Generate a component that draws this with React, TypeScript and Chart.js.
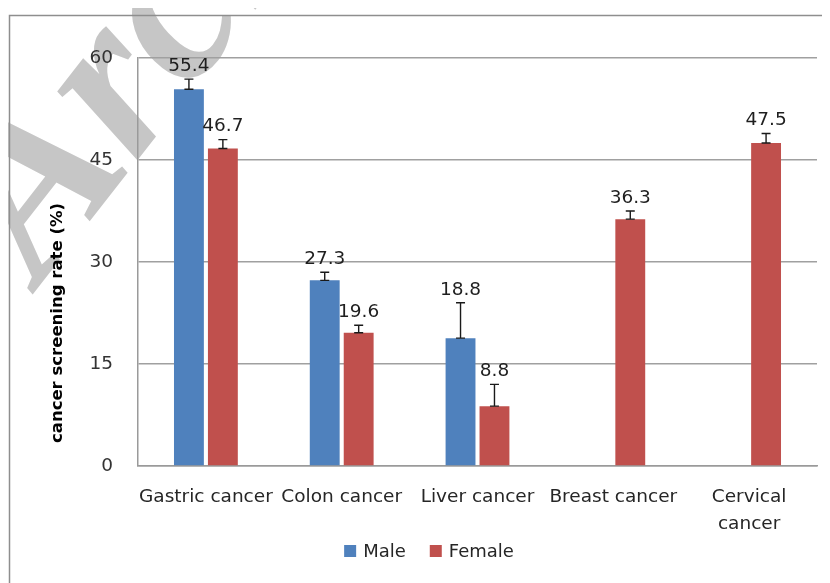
import React, { useEffect, useRef } from 'react';
import { Chart, registerables } from 'chart.js';

Chart.register(...registerables);

const categories: (string | string[])[] = ['Gastric cancer', 'Colon cancer', 'Liver cancer', 'Breast cancer', ['Cervical', 'cancer']];
const maleValues: (number | null)[] = [55.4, 27.3, 18.8, null, null];
const femaleValues: (number | null)[] = [46.7, 19.6, 8.8, 36.3, 47.5];
const maleErrors: (number | null)[] = [1.5, 1.2, 5.2, null, null];
const femaleErrors: (number | null)[] = [1.3, 1.1, 3.2, 1.2, 1.4];
const yTickValues = [0, 15, 30, 45, 60];
const seriesNames = ['Male', 'Female'];
const seriesColors = ['#4f81bd', '#c0504d'];
const yTitle = 'cancer screening rate (%)';
const watermarkText = 'Archive of SID';

const FONT = '"DejaVu Sans", Verdana, sans-serif';

const backgroundPlugin = {
  id: 'bgWatermark',
  beforeDraw(chart: any) {
    const { ctx, width, height } = chart;
    ctx.save();
    ctx.fillStyle = '#ffffff';
    ctx.fillRect(0, 0, width, height);
    // watermark
    ctx.save();
    ctx.translate(32, 277);
    ctx.rotate((-52 * Math.PI) / 180);
    ctx.font = 'italic bold 230px "Liberation Serif", "DejaVu Serif", serif';
    ctx.fillStyle = '#c6c6c6';
    ctx.textBaseline = 'alphabetic';
    ctx.fillText(watermarkText, 0, 0);
    ctx.restore();
    // outer frame
    ctx.strokeStyle = '#8e8e8e';
    ctx.lineWidth = 1.5;
    ctx.beginPath();
    ctx.moveTo(1.5, height + 5);
    ctx.lineTo(1.5, 7.5);
    ctx.lineTo(width + 5, 7.5);
    ctx.stroke();
    ctx.restore();
  },
};

const decorPlugin = {
  id: 'decor',
  afterDraw(chart: any) {
    const { ctx } = chart;
    // y-axis title
    ctx.save();
    ctx.translate(50, 315);
    ctx.rotate(-Math.PI / 2);
    ctx.font = 'bold 16.5px ' + FONT;
    ctx.fillStyle = '#000000';
    ctx.textAlign = 'center';
    ctx.textBaseline = 'middle';
    ctx.fillText(yTitle, 0, 0);
    ctx.restore();
    // legend
    ctx.save();
    ctx.font = '18px ' + FONT;
    const box = 12;
    const gapText = 7;
    const gapItem = 24;
    const widths = seriesNames.map((n) => ctx.measureText(n).width);
    const total = widths.reduce((a, w) => a + box + gapText + w, 0) + gapItem * (seriesNames.length - 1);
    let x = 421 - total / 2;
    const cy = 543;
    seriesNames.forEach((n, i) => {
      ctx.fillStyle = seriesColors[i];
      ctx.fillRect(x, cy - box / 2, box, box);
      x += box + gapText;
      ctx.fillStyle = '#262626';
      ctx.textAlign = 'left';
      ctx.textBaseline = 'middle';
      ctx.fillText(n, x, cy + 1);
      x += widths[i] + gapItem;
    });
    ctx.restore();
  },
};

const errorLabelPlugin = {
  id: 'errorLabels',
  afterDatasetsDraw(chart: any) {
    const { ctx } = chart;
    const yScale = chart.scales.y;
    const errs = [maleErrors, femaleErrors];
    chart.data.datasets.forEach((ds: any, di: number) => {
      const meta = chart.getDatasetMeta(di);
      meta.data.forEach((el: any, i: number) => {
        const v = ds.data[i];
        const e = errs[di][i];
        if (v == null || e == null) return;
        const x = el.x;
        const yTop = yScale.getPixelForValue(v + e);
        const yBot = yScale.getPixelForValue(v);
        ctx.save();
        ctx.strokeStyle = '#1a1a1a';
        ctx.lineWidth = 1.4;
        ctx.beginPath();
        ctx.moveTo(x, yBot);
        ctx.lineTo(x, yTop);
        ctx.moveTo(x - 4.5, yTop);
        ctx.lineTo(x + 4.5, yTop);
        ctx.moveTo(x - 4.5, yBot);
        ctx.lineTo(x + 4.5, yBot);
        ctx.stroke();
        ctx.fillStyle = '#1f1f1f';
        ctx.font = '18.5px ' + FONT;
        ctx.textAlign = 'center';
        ctx.textBaseline = 'middle';
        ctx.fillText(v.toFixed(1), x, yTop - 13);
        ctx.restore();
      });
    });
  },
};

export default function App() {
  const ref = useRef<HTMLCanvasElement | null>(null);
  useEffect(() => {
    if (!ref.current) return;
    const chart = new Chart(ref.current, {
      type: 'bar',
      data: {
        labels: categories,
        datasets: [
          {
            label: seriesNames[0],
            data: maleValues,
            backgroundColor: seriesColors[0],
            categoryPercentage: 0.5,
            barPercentage: 0.88,
          },
          {
            label: seriesNames[1],
            data: femaleValues,
            backgroundColor: seriesColors[1],
            categoryPercentage: 0.5,
            barPercentage: 0.88,
          },
        ],
      },
      options: {
        responsive: false,
        animation: false,
        layout: { padding: { left: 35, right: 13, top: 50, bottom: 47 } },
        plugins: {
          legend: { display: false },
          tooltip: { enabled: false },
        },
        scales: {
          x: {
            grid: { display: false, drawTicks: false },
            border: { color: '#9a9a9a', width: 1.5 },
            ticks: {
              color: '#262626',
              font: { family: FONT, size: 18.5, lineHeight: 1.5 },
              padding: 17,
              maxRotation: 0,
              minRotation: 0,
              autoSkip: false,
            },
            afterFit(scale: any) {
              scale.height = 70;
            },
          },
          y: {
            min: 0,
            max: 60,
            afterBuildTicks(scale: any) {
              scale.ticks = yTickValues.map((v) => ({ value: v }));
            },
            grid: { color: '#a0a0a0', lineWidth: 1.5, drawTicks: false },
            border: { color: '#9a9a9a', width: 1.5 },
            ticks: {
              color: '#333333',
              font: { family: FONT, size: 18.5 },
              padding: 25,
            },
            title: { display: false },
            afterFit(scale: any) {
              scale.width = 95;
            },
          },
        },
      },
      plugins: [backgroundPlugin, errorLabelPlugin, decorPlugin],
    } as any);
    return () => chart.destroy();
  }, []);
  return (
    <div style={{ width: 822, height: 575, overflow: 'hidden' }}>
      <canvas ref={ref} width={822} height={575} style={{ display: 'block', width: 822, height: 575 }} />
    </div>
  );
}
